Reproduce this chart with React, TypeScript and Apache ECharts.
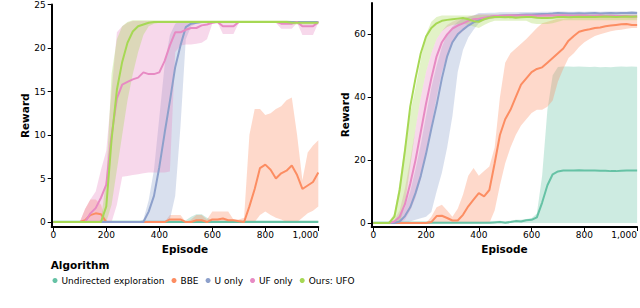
import React, { useEffect, useRef } from "react";
import * as echarts from "echarts";

const EPISODES = [
  0, 20, 40, 60, 80, 100, 120, 140, 160, 180,
  200, 220, 240, 260, 280, 300, 320, 340, 360, 380,
  400, 420, 440, 460, 480, 500, 520, 540, 560, 580,
  600, 620, 640, 660, 680, 700, 720, 740, 760, 780,
  800, 820, 840, 860, 880, 900, 920, 940, 960, 980, 1000,
];

const SERIES_NAMES = ["Undirected exploration", "BBE", "U only", "UF only", "Ours: UFO"];
const COLORS = ["#66c2a5", "#fc8d62", "#8da0cb", "#e78ac3", "#a6d854"];

const X_TICKS = [0, 200, 400, 600, 800, 1000];
const LEFT_Y_TICKS = [0, 5, 10, 15, 20, 25];
const RIGHT_Y_TICKS = [0, 20, 40, 60];

// ---------- Left panel ----------
const L_TEAL_MEAN = [
  0, 0, 0, 0, 0, 0, 0, 0, 0, 0,
  0, 0, 0, 0, 0, 0, 0, 0, 0, 0,
  0, 0, 0, 0, 0, 0, 0, 0, 0, 0,
  0, 0, 0, 0, 0, 0, 0, 0, 0, 0,
  0, 0, 0, 0, 0, 0, 0, 0, 0, 0, 0,
];
const L_TEAL_LO = [
  0, 0, 0, 0, 0, 0, 0, 0, 0, 0,
  0, 0, 0, 0, 0, 0, 0, 0, 0, 0,
  0, 0, 0, 0, 0, 0, 0, 0, 0, 0,
  0, 0, 0, 0, 0, 0, 0, 0, 0, 0,
  0, 0, 0, 0, 0, 0, 0, 0, 0, 0, 0,
];
const L_TEAL_HI = [
  0.2, 0.2, 0.2, 0.2, 0.2, 0.2, 0.2, 0.2, 0.2, 0.2,
  0.2, 0.2, 0.2, 0.2, 0.2, 0.2, 0.2, 0.2, 0.2, 0.2,
  0.2, 0.2, 0.2, 0.2, 0.2, 0.2, 0.6, 0.9, 0.9, 0.5,
  0.2, 0.2, 0.2, 0.2, 0.2, 0.2, 0.2, 0.2, 0.2, 0.2,
  0.2, 0.2, 0.2, 0.2, 0.2, 0.2, 0.2, 0.2, 0.2, 0.2, 0.2,
];

const L_ORANGE_MEAN = [
  0, 0, 0, 0, 0, 0, 0.2, 0.8, 1, 0.9,
  0, 0, 0, 0, 0, 0, 0, 0, 0, 0,
  0, 0, 0.3, 0.3, 0.3, 0, 0, 0.2, 0.2, 0,
  0.3, 0.3, 0.4, 0.2, 0.2, 0.1, 0, 1.8, 3.8, 6.2,
  6.6, 6.0, 5.0, 5.6, 5.9, 6.5, 5.4, 3.8, 4.2, 4.6, 5.7,
];
const L_ORANGE_LO = [
  0, 0, 0, 0, 0, 0, 0, 0, 0, 0,
  0, 0, 0, 0, 0, 0, 0, 0, 0, 0,
  0, 0, 0, 0, 0, 0, 0, 0, 0, 0,
  0, 0, 0, 0, 0, 0, 0, 0, 0, 0.8,
  1.2, 0.8, 0.5, 0.3, 0, 0, 0, 0.5, 1, 1.3, 1.8,
];
const L_ORANGE_HI = [
  0, 0, 0, 0, 0, 0, 1.5, 2.6, 2.6, 2.0,
  0, 0, 0, 0, 0, 0, 0, 0, 0, 0,
  0, 0, 0.8, 0.8, 0.8, 0, 0.3, 0.8, 0.8, 0.3,
  1.2, 1.2, 1.2, 1.2, 0.3, 0.3, 0.5, 10, 13, 13,
  12.3, 12.5, 13, 13.3, 14, 14.3, 10, 4.8, 8, 8.8, 9.4,
];

const L_BLUE_MEAN = [
  0, 0, 0, 0, 0, 0, 0, 0, 0, 0,
  0, 0, 0, 0, 0, 0, 0, 0, 1.2, 3,
  6.3, 10.2, 13.9, 17.8, 20.3, 22.4, 22.8, 22.9, 23, 23,
  23, 23, 23, 23, 23, 23, 23, 23, 23, 23,
  23, 23, 23, 23, 23, 23, 23, 23, 23, 23, 23,
];
const L_BLUE_LO = [
  0, 0, 0, 0, 0, 0, 0, 0, 0, 0,
  0, 0, 0, 0, 0, 0, 0, 0, 0, 0,
  0, 0, 0.3, 3, 11, 21, 22.5, 22.8, 22.9, 22.9,
  22.9, 22.9, 22.9, 22.9, 22.9, 22.9, 22.9, 22.9, 22.9, 22.9,
  22.9, 22.9, 22.9, 22.9, 22.9, 22.9, 22.9, 22.9, 22.9, 22.9, 22.9,
];
const L_BLUE_HI = [
  0, 0, 0, 0, 0, 0, 0, 0, 0, 0,
  0, 0, 0, 0, 0, 0, 0, 0.3, 2.5, 6,
  12, 18, 21.5, 22.8, 23.1, 23.1, 23.1, 23.1, 23.1, 23.1,
  23.1, 23.1, 23.1, 23.1, 23.1, 23.1, 23.1, 23.1, 23.1, 23.1,
  23.1, 23.1, 23.1, 23.1, 23.1, 23.1, 23.1, 23.1, 23.1, 23.1, 23.1,
];

const L_PINK_MEAN = [
  0, 0, 0, 0, 0, 0, 0, 1, 1.6, 2.8,
  4.3, 10, 14.2, 15.8, 16.1, 16.4, 16.6, 17.2, 17, 17,
  17.2, 18.5, 20.3, 21.8, 21.8, 22.1, 22.3, 22.3, 22.6, 22.7,
  22.9, 23, 22.5, 22.5, 22.5, 23, 23, 23, 23, 23,
  23, 23, 23, 22.8, 22.8, 22.8, 23, 22.5, 22.5, 22.5, 23,
];
const L_PINK_LO = [
  0, 0, 0, 0, 0, 0, 0, 0, 0, 0,
  0, 0, 2, 5.2, 5.3, 5.4, 5.5, 5.6, 5.7, 5.7,
  5.7, 5.7, 5.8, 19.5, 20.3, 20.4, 20.4, 20.5, 20.6, 21,
  22.8, 22.9, 21.6, 21.6, 21.6, 22.9, 22.9, 22.9, 22.9, 22.9,
  22.9, 22.9, 22.9, 22.2, 22.2, 22.2, 22.9, 21.5, 21.5, 21.5, 22.9,
];
const L_PINK_HI = [
  0, 0, 0, 0, 0, 0, 1.5, 2.6, 3.5, 6,
  8.2, 15, 21.8, 22.5, 22.9, 23.1, 23.1, 23.1, 23.1, 23.1,
  23.1, 23.1, 23.1, 23.1, 23.1, 23.1, 23.1, 23.1, 23.1, 23.1,
  23.1, 23.1, 23.1, 23.1, 23.1, 23.1, 23.1, 23.1, 23.1, 23.1,
  23.1, 23.1, 23.1, 23.1, 23.1, 23.1, 23.1, 23.1, 23.1, 23.1, 23.1,
];

const L_GREEN_MEAN = [
  0, 0, 0, 0, 0, 0, 0, 0, 0, 0,
  1.8, 9.5, 15.2, 18.4, 20.6, 21.9, 22.5, 22.7, 22.9, 23,
  23, 23, 23, 23, 23, 23, 23, 23, 23, 23,
  23, 23, 23, 23, 23, 23, 23, 23, 23, 23,
  23, 23, 23, 23, 23, 22.9, 22.9, 22.9, 22.9, 22.9, 22.9,
];
const L_GREEN_LO = [
  0, 0, 0, 0, 0, 0, 0, 0, 0, 0,
  0, 2, 6, 10, 14, 17, 19.5, 21.5, 22.5, 22.8,
  22.9, 22.9, 22.9, 22.9, 22.9, 22.9, 22.9, 22.9, 22.9, 22.9,
  22.9, 22.9, 22.9, 22.9, 22.9, 22.9, 22.9, 22.9, 22.9, 22.9,
  22.9, 22.9, 22.9, 22.9, 22.9, 22.7, 22.7, 22.7, 22.7, 22.7, 22.7,
];
const L_GREEN_HI = [
  0, 0, 0, 0, 0, 0, 0, 0, 0, 0.2,
  5, 17, 21, 22.5, 23, 23.2, 23.2, 23.2, 23.2, 23.2,
  23.2, 23.2, 23.2, 23.2, 23.2, 23.2, 23.2, 23.2, 23.2, 23.2,
  23.2, 23.2, 23.2, 23.2, 23.2, 23.2, 23.2, 23.2, 23.2, 23.2,
  23.2, 23.2, 23.2, 23.2, 23.2, 23.1, 23.1, 23.1, 23.1, 23.1, 23.1,
];

// ---------- Right panel ----------
const R_TEAL_MEAN = [
  0.1, 0.1, 0.1, 0.1, 0.1, 0.1, 0.1, 0.1, 0.1, 0.1,
  0.1, 0.1, 0.1, 0.1, 0.1, 0.1, 0.1, 0.1, 0.1, 0.1,
  0.1, 0.1, 0.1, 0.2, 0.3, 0.1, 0.3, 0.6, 0.5, 0.9,
  1, 1.8, 6.5, 12, 15.5, 16.4, 16.7, 16.7, 16.7, 16.8,
  16.7, 16.7, 16.7, 16.6, 16.6, 16.5, 16.5, 16.6, 16.7, 16.7, 16.7,
];
const R_TEAL_LO = [
  0, 0, 0, 0, 0, 0, 0, 0, 0, 0,
  0, 0, 0, 0, 0, 0, 0, 0, 0, 0,
  0, 0, 0, 0, 0, 0, 0, 0, 0, 0,
  0, 0, 0, 0, 0, 0, 0, 0, 0, 0,
  0, 0, 0, 0, 0, 0, 0, 0, 0, 0, 0,
];
const R_TEAL_HI = [
  0.4, 0.4, 0.4, 0.4, 0.4, 0.4, 0.4, 0.4, 0.4, 0.4,
  0.4, 0.4, 0.4, 0.4, 0.4, 0.4, 0.4, 0.4, 0.4, 0.4,
  0.4, 0.4, 0.5, 0.6, 0.7, 0.5, 0.7, 1, 1, 1.3,
  1.5, 3, 15, 36, 47, 49.6, 49.8, 49.8, 49.7, 49.8,
  49.7, 49.6, 49.7, 49.5, 49.6, 49.5, 49.7, 49.8, 49.7, 49.8, 49.7,
];

const R_ORANGE_MEAN = [
  0, 0, 0, 0, 0, 0, 0, 0, 0, 0,
  0, 0.3, 2.2, 2.3, 1.6, 0.8, 0.8, 2.6, 5.3, 7.4,
  9.5, 8.5, 10.5, 19, 28, 33, 36, 40, 44, 46,
  48, 49, 49.5, 51, 52.5, 54, 55.5, 58, 59.5, 60.8,
  61.3, 61.6, 62, 62.2, 62.6, 62.8, 63, 63.2, 63.3, 63, 63,
];
const R_ORANGE_LO = [
  0, 0, 0, 0, 0, 0, 0, 0, 0, 0,
  0, 0, 0, 0, 0, 0, 0, 0, 0, 0,
  0, 0, 0, 4, 12, 19, 24, 28, 31, 33,
  35, 36, 36, 37, 39, 45, 49, 52.5, 54, 56,
  57.5, 58.5, 59.5, 60, 60.5, 61, 61.3, 61.5, 61.8, 62, 62,
];
const R_ORANGE_HI = [
  0, 0, 0, 0, 0, 0, 0, 0, 0, 0,
  0, 2, 5, 5.8, 4, 2, 4.5, 9, 15, 17.5,
  15, 16.5, 18, 24, 40, 51, 54, 55.5, 57, 58.5,
  60.3, 62, 63.5, 64, 64.5, 65, 65, 65, 65.5, 65.5,
  65.5, 65.5, 65.5, 65.5, 65.5, 65.5, 65.5, 65.5, 65.5, 65.5, 65.5,
];

const R_BLUE_MEAN = [
  0, 0, 0, 0, 0, 0.5, 2.2, 5, 9.5, 15,
  22, 30, 37.5, 46, 53, 57.5, 60, 61.5, 62.8, 63.8,
  64.5, 65, 65.5, 65.7, 65.9, 66, 66, 66.1, 66.2, 66.3,
  66.3, 66.4, 66.5, 66.5, 66.6, 66.8, 66.7, 66.6, 66.6, 66.7,
  66.6, 66.7, 66.8, 66.6, 66.7, 66.8, 66.7, 66.8, 66.8, 66.9, 66.8,
];
const R_BLUE_LO = [
  0, 0, 0, 0, 0, 0, 0, 0.5, 1, 1.5,
  2, 3.5, 10, 16, 24, 34, 48, 55, 59, 61.5,
  63.5, 64.5, 65, 65.2, 65.3, 65.4, 65.5, 65.5, 65.6, 65.6,
  65.7, 65.7, 65.7, 65.7, 65.7, 65.7, 65.7, 65.7, 65.7, 65.7,
  65.7, 65.7, 65.7, 65.7, 65.7, 65.7, 65.7, 65.7, 65.7, 65.7, 65.7,
];
const R_BLUE_HI = [
  0, 0, 0, 0, 0.3, 2, 5, 10, 17, 25,
  34, 43, 50, 56, 60, 62.5, 64, 65, 65.5, 66,
  66.8, 66.8, 66.9, 66.9, 67, 67, 67, 67, 67.1, 67.1,
  67.1, 67.1, 67.2, 67.2, 67.2, 67.3, 67.3, 67.2, 67.2, 67.3,
  67.2, 67.3, 67.3, 67.2, 67.3, 67.3, 67.3, 67.3, 67.3, 67.4, 67.3,
];

const R_PINK_MEAN = [
  0, 0, 0, 0, 0.5, 2, 6, 12.5, 20, 29,
  38, 46, 53, 57.5, 60, 61.8, 62.8, 63.5, 64.3, 64.8,
  65, 65.3, 65.5, 65.8, 65.8, 65.9, 66, 66, 66, 66,
  66, 65.9, 66, 66.1, 66, 66, 66.1, 66, 65.9, 66,
  66, 65.9, 65.9, 66, 65.8, 65.9, 65.8, 65.8, 65.8, 65.7, 65.7,
];
const R_PINK_LO = [
  0, 0, 0, 0, 0, 0, 1, 4, 8, 14,
  22, 31, 40, 48, 53, 57, 59.5, 61, 62.5, 63.5,
  64, 64.4, 64.8, 65, 65.2, 65.2, 65.3, 65.3, 65.3, 65.3,
  65.3, 65.3, 65.3, 65.3, 65.3, 65.3, 65.3, 65.3, 65.3, 65.3,
  65.3, 65.3, 65.3, 65.3, 65.2, 65.2, 65.2, 65.2, 65.2, 65.1, 65.1,
];
const R_PINK_HI = [
  0, 0, 0, 0, 1, 4, 11, 20, 30, 40,
  48, 54, 58.5, 61, 63, 64, 64.8, 65.2, 65.6, 66,
  66.4, 66.4, 66.4, 66.4, 66.4, 66.4, 66.5, 66.5, 66.5, 66.5,
  66.5, 66.5, 66.5, 66.6, 66.5, 66.5, 66.6, 66.5, 66.5, 66.5,
  66.5, 66.4, 66.4, 66.5, 66.4, 66.4, 66.3, 66.3, 66.3, 66.3, 66.3,
];

const R_GREEN_MEAN = [
  0, 0, 0, 0, 2, 10.5, 23, 37, 46, 54,
  59.3, 62, 63.5, 64.3, 64.6, 64.8, 65, 65.2, 64.8, 64.2,
  64, 64.8, 65.3, 65.5, 65.5, 65.4, 65.5, 65.3, 65.4, 65.5,
  65.5, 65.3, 65.2, 65.2, 65.3, 65.5, 65.5, 65.4, 65.5, 65.6,
  65.5, 65.6, 65.5, 65.6, 65.7, 65.6, 65.5, 65.6, 65.7, 65.6, 65.7,
];
const R_GREEN_LO = [
  0, 0, 0, 0, 0, 0, 6, 18, 30, 40,
  48, 54, 58.5, 61, 62.3, 63, 63.3, 63.5, 63, 62.5,
  62, 63, 63.8, 64.3, 64.3, 64.3, 64.3, 64.3, 64.3, 64.3,
  63.5, 63.3, 63.3, 63.3, 63.5, 64, 64.5, 64.5, 64.5, 64.5,
  64.5, 64.5, 64.5, 64.5, 64.5, 64.5, 64.5, 64.5, 64.5, 64.5, 64.5,
];
const R_GREEN_HI = [
  0, 0, 0, 0.5, 3, 13, 25, 35, 43, 52,
  60, 64, 65.5, 66, 66, 66, 66, 66, 66, 66,
  66.2, 66.2, 66.2, 66.2, 66.2, 66.2, 66.2, 66.2, 66.2, 66.2,
  66.2, 66.2, 66.2, 66.2, 66.2, 66.2, 66.2, 66.2, 66.2, 66.2,
  66.2, 66.2, 66.2, 66.2, 66.2, 66.2, 66.2, 66.2, 66.2, 66.2, 66.2,
];

const LEFT = [
  { mean: L_TEAL_MEAN, lo: L_TEAL_LO, hi: L_TEAL_HI },
  { mean: L_ORANGE_MEAN, lo: L_ORANGE_LO, hi: L_ORANGE_HI },
  { mean: L_BLUE_MEAN, lo: L_BLUE_LO, hi: L_BLUE_HI },
  { mean: L_PINK_MEAN, lo: L_PINK_LO, hi: L_PINK_HI },
  { mean: L_GREEN_MEAN, lo: L_GREEN_LO, hi: L_GREEN_HI },
];
const RIGHT = [
  { mean: R_TEAL_MEAN, lo: R_TEAL_LO, hi: R_TEAL_HI },
  { mean: R_ORANGE_MEAN, lo: R_ORANGE_LO, hi: R_ORANGE_HI },
  { mean: R_BLUE_MEAN, lo: R_BLUE_LO, hi: R_BLUE_HI },
  { mean: R_PINK_MEAN, lo: R_PINK_LO, hi: R_PINK_HI },
  { mean: R_GREEN_MEAN, lo: R_GREEN_LO, hi: R_GREEN_HI },
];

const FONT = "DejaVu Sans";

function bandSeries(name: string, color: string, lo: number[], hi: number[], axis: number) {
  const data = EPISODES.map((x, i) => [x, lo[i], hi[i]]);
  return {
    type: "custom",
    name: name + " band",
    xAxisIndex: axis,
    yAxisIndex: axis,
    silent: true,
    z: 1,
    data,
    renderItem: (params: any, api: any) => {
      if (params.dataIndex !== 0) return null;
      const pts: number[][] = [];
      for (let i = 0; i < data.length; i++) pts.push(api.coord([data[i][0], data[i][2]]));
      for (let i = data.length - 1; i >= 0; i--) pts.push(api.coord([data[i][0], data[i][1]]));
      return {
        type: "polygon",
        shape: { points: pts },
        style: { fill: color, opacity: 0.33, stroke: null },
      };
    },
  };
}

function lineSeries(name: string, color: string, mean: number[], axis: number) {
  return {
    type: "line",
    name,
    xAxisIndex: axis,
    yAxisIndex: axis,
    data: EPISODES.map((x, i) => [x, mean[i]]),
    showSymbol: false,
    symbol: "circle",
    color,
    itemStyle: { color },
    lineStyle: { color, width: 2 },
    z: 3,
  };
}

function xAxisFor(grid: number) {
  return {
    type: "value",
    gridIndex: grid,
    min: -6,
    max: 1000,
    name: "Episode",
    nameLocation: "middle",
    nameGap: 14,
    nameTextStyle: { fontFamily: FONT, fontWeight: "bold", fontSize: 10.5, color: "#000" },
    axisLine: { show: true, onZero: false, lineStyle: { color: "#000", width: 2 } },
    axisTick: { show: true, length: 4, customValues: X_TICKS, lineStyle: { color: "#000", width: 1 } },
    axisLabel: {
      customValues: X_TICKS,
      margin: 3,
      fontFamily: FONT,
      fontSize: 9,
      color: "#000",
      formatter: (v: number) => {
        const s = v.toLocaleString("en-US");
        return v === 1000 ? `{last|${s}}` : s;
      },
      rich: {
        last: { fontFamily: FONT, fontSize: 9, color: "#000", padding: [0, 26, 0, 0] },
      },
    },
    splitLine: { show: false },
  };
}

function yAxisFor(grid: number, min: number, max: number, ticks: number[]) {
  return {
    type: "value",
    gridIndex: grid,
    min,
    max,
    name: "Reward",
    nameLocation: "middle",
    nameGap: 19,
    nameTextStyle: { fontFamily: FONT, fontWeight: "bold", fontSize: 10.5, color: "#000" },
    axisLine: { show: true, onZero: false, lineStyle: { color: "#000", width: 2 } },
    axisTick: { show: true, length: 4, customValues: ticks, lineStyle: { color: "#000", width: 1 } },
    axisLabel: {
      customValues: ticks,
      margin: 6,
      fontFamily: FONT,
      fontSize: 9,
      color: "#000",
    },
    splitLine: { show: false },
  };
}

export default function App() {
  const ref = useRef<HTMLDivElement>(null);

  useEffect(() => {
    if (!ref.current) return;
    const chart = echarts.init(ref.current, undefined, { renderer: "svg" });

    const series: any[] = [];
    LEFT.forEach((s, i) => series.push(bandSeries(SERIES_NAMES[i], COLORS[i], s.lo, s.hi, 0)));
    RIGHT.forEach((s, i) => series.push(bandSeries(SERIES_NAMES[i], COLORS[i], s.lo, s.hi, 1)));
    LEFT.forEach((s, i) => series.push(lineSeries(SERIES_NAMES[i], COLORS[i], s.mean, 0)));
    RIGHT.forEach((s, i) => series.push(lineSeries(SERIES_NAMES[i], COLORS[i], s.mean, 1)));

    chart.setOption({
      animation: false,
      backgroundColor: "#fff",
      grid: [
        { left: 51.7, top: 3.3, width: 266.6, height: 223.7 },
        { left: 371.7, top: 2.9, width: 266.3, height: 224.1 },
      ],
      xAxis: [xAxisFor(0), xAxisFor(1)],
      yAxis: [yAxisFor(0, -0.57, 25, LEFT_Y_TICKS), yAxisFor(1, -1.27, 70, RIGHT_Y_TICKS)],
      legend: {
        data: SERIES_NAMES,
        left: 52.5,
        top: 276,
        padding: 0,
        icon: "circle",
        itemWidth: 5,
        itemHeight: 5,
        itemGap: 7,
        selectedMode: false,
        textStyle: { fontFamily: FONT, fontSize: 9, color: "#000", padding: [0, 0, 0, -1] },
      },
      graphic: [
        {
          type: "text",
          left: 50.7,
          top: 259.5,
          style: { text: "Algorithm", font: `bold 10.5px "${FONT}"`, fill: "#000" },
        },
      ],
      series,
    });

    return () => chart.dispose();
  }, []);

  return (
    <div
      ref={ref}
      style={{ position: "absolute", left: 0, top: 0, width: 640, height: 308 }}
    />
  );
}
